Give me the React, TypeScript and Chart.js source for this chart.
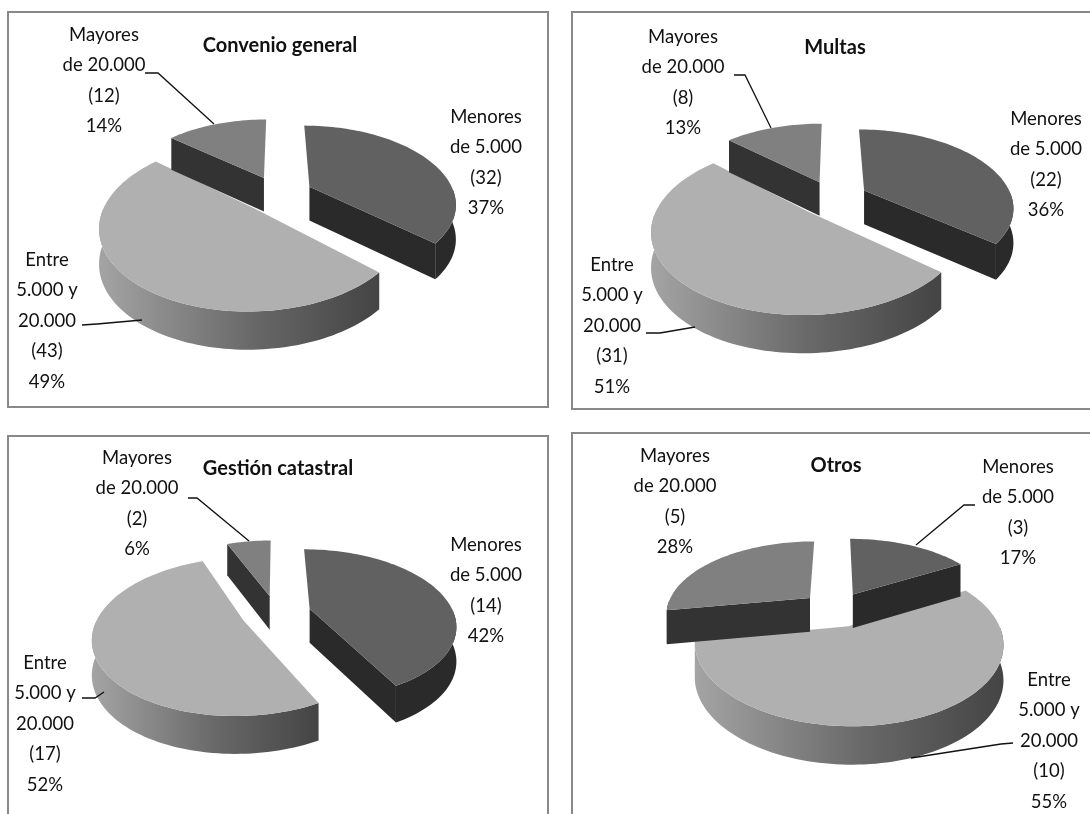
import React, { useEffect, useRef } from "react";
import { Chart, registerables } from "chart.js";

Chart.register(...registerables);

// ---- data ----
const categories = [
  ["Menores", "de 5.000"],
  ["Entre", "5.000 y", "20.000"],
  ["Mayores", "de 20.000"],
];
const titles = ["Convenio general", "Multas", "Gestión catastral", "Otros"];
const convenioCounts = [32, 43, 12];
const multasCounts = [22, 31, 8];
const gestionCounts = [14, 17, 2];
const otrosCounts = [3, 10, 5];
const convenioPercents = [37, 49, 14];
const multasPercents = [36, 51, 13];
const gestionPercents = [42, 52, 6];
const otrosPercents = [17, 55, 28];

// ---- styles and layout ----
const FONT = "Lato";
const TOP_COLORS = ["#616161", "#b0b0b0", "#808080"];
const WALL_COLORS = ["#2a2a2a", "#2a2a2a", "#333333"];
const DRAW_ORDER = [1, 2, 0];
const EXPLODE = 35;
const PERSPECTIVE = 0.2;
const DEPTH = 34;
const LINE_GAP = 30.5;

type Pt = [number, number];
interface Layout {
  counts: number[];
  percents: number[];
  title: string;
  box: { left: number; top: number; width: number; height: number };
  canvas: { left: number; top: number; width: number };
  titleY: number;
  center: Pt;
  radius: number;
  tiltHeight: number;
  labels: { x: number; y: number }[];
  leaders: Pt[][];
}

const panels: Layout[] = [
  {
    counts: convenioCounts, percents: convenioPercents, title: titles[0],
    box: { left: 7, top: 11, width: 542, height: 397 },
    canvas: { left: 8, top: 12, width: 544 }, titleY: 46, center: [278, 194], radius: 145, tiltHeight: 76,
    labels: [{ x: 486, y: 117 }, { x: 47, y: 260 }, { x: 104, y: 35 }],
    leaders: [[[145, 73], [158, 73], [214, 124]], [[82, 325], [97, 324], [142, 320]]],
  },
  {
    counts: multasCounts, percents: multasPercents, title: titles[1],
    box: { left: 571, top: 11, width: 530, height: 399 },
    canvas: { left: 571, top: 12, width: 528 }, titleY: 48, center: [833, 198], radius: 148, tiltHeight: 76,
    labels: [{ x: 1046, y: 119 }, { x: 612, y: 265 }, { x: 683, y: 37 }],
    leaders: [[[734, 75], [745, 75], [771, 128]], [[646, 333], [660, 333], [695, 327]]],
  },
  {
    counts: gestionCounts, percents: gestionPercents, title: titles[2],
    box: { left: 7, top: 435, width: 542, height: 400 },
    canvas: { left: 8, top: 436, width: 540 }, titleY: 469, center: [276, 613], radius: 144, tiltHeight: 73,
    labels: [{ x: 486, y: 545 }, { x: 45, y: 663 }, { x: 137, y: 458 }],
    leaders: [[[188, 498], [197, 498], [249, 541]], [[82, 698], [95, 698], [104, 692]]],
  },
  {
    counts: otrosCounts, percents: otrosPercents, title: titles[3],
    box: { left: 571, top: 432, width: 530, height: 400 },
    canvas: { left: 571, top: 433, width: 530 }, titleY: 466, center: [836, 609], radius: 144, tiltHeight: 72,
    labels: [{ x: 1018, y: 467 }, { x: 1049, y: 680 }, { x: 675, y: 456 }],
    leaders: [[[975, 505], [964, 505], [916, 545]], [[1013, 743], [1001, 744], [911, 758]]],
  },
];

function makePie3d(p: Layout) {
  return {
    id: "pie3d",
    beforeDatasetDraw(chart: any) {
      const ctx = chart.ctx as CanvasRenderingContext2D;
      const arcs = chart.getDatasetMeta(0).data;
      ctx.save();
      ctx.translate(-p.canvas.left, -p.canvas.top);
      for (const i of DRAW_ORDER) {
        const arc = arcs[i];
        const { startAngle, endAngle, outerRadius } = arc.getProps(
          ["startAngle", "endAngle", "outerRadius"], true);
        const R = outerRadius;
        const tilt = p.tiltHeight / R;
        const mid = (startAngle + endAngle) / 2;
        const off = arc.options.offset;
        const dx = off * Math.cos(mid);
        const dy = off * Math.sin(mid);
        const proj = (u: number, v: number, z: number): Pt => {
          const s = 1 / (1 - (PERSPECTIVE * v) / R);
          return [p.center[0] + u * s, p.center[1] + v * tilt * s + z * (1 + (s - 1) * 0.4)];
        };
        const n = Math.max(4, Math.ceil((endAngle - startAngle) / 0.03));
        const angles: number[] = [];
        for (let k = 0; k <= n; k++) angles.push(startAngle + ((endAngle - startAngle) * k) / n);
        const rimAt = (a: number): Pt => [R * Math.cos(a) + dx, R * Math.sin(a) + dy];
        const rim = angles.map(rimAt);
        const fillPoly = (pts: Pt[], style: any) => {
          ctx.beginPath();
          pts.forEach((q, idx) => (idx ? ctx.lineTo(q[0], q[1]) : ctx.moveTo(q[0], q[1])));
          ctx.closePath();
          ctx.fillStyle = style;
          ctx.fill();
        };
        const wall = WALL_COLORS[i];
        // radial walls that face the viewer
        if (-Math.cos(startAngle) > 0.01) {
          const e = rimAt(startAngle);
          fillPoly([proj(dx, dy, 0), proj(e[0], e[1], 0), proj(e[0], e[1], DEPTH), proj(dx, dy, DEPTH)], wall);
        }
        if (Math.cos(endAngle) > 0.01) {
          const e = rimAt(endAngle);
          fillPoly([proj(dx, dy, 0), proj(e[0], e[1], 0), proj(e[0], e[1], DEPTH), proj(dx, dy, DEPTH)], wall);
        }
        // outer wall: the visible part of the rim only
        const front = angles.filter((a) => Math.sin(a) >= 0).map(rimAt);
        if (front.length > 1) {
          let style: any = wall;
          if (i === 1) {
            const xs = front.map((q) => proj(q[0], q[1], 0)[0]);
            const g = ctx.createLinearGradient(Math.min(...xs), 0, Math.max(...xs), 0);
            g.addColorStop(0, "#a4a4a4");
            g.addColorStop(0.55, "#686868");
            g.addColorStop(1, "#444444");
            style = g;
          }
          fillPoly(
            [
              ...front.map((q) => proj(q[0], q[1], 0)),
              ...front.slice().reverse().map((q) => proj(q[0], q[1], DEPTH)),
            ],
            style
          );
        }
        // top face
        fillPoly([proj(dx, dy, 0), ...rim.map((q) => proj(q[0], q[1], 0))], arc.options.backgroundColor);
      }
      // leader lines
      ctx.strokeStyle = "#111111";
      ctx.lineWidth = 1.3;
      for (const line of p.leaders) {
        ctx.beginPath();
        line.forEach((q, idx) => (idx ? ctx.lineTo(q[0], q[1]) : ctx.moveTo(q[0], q[1])));
        ctx.stroke();
      }
      // data labels
      ctx.fillStyle = "#111111";
      ctx.font = `18.5px ${FONT}`;
      ctx.textAlign = "center";
      ctx.textBaseline = "middle";
      categories.forEach((cat, i) => {
        const lines = [...cat, `(${p.counts[i]})`, `${p.percents[i]}%`];
        lines.forEach((t, j) => ctx.fillText(t, p.labels[i].x, p.labels[i].y + j * LINE_GAP));
      });
      ctx.restore();
      return false;
    },
  };
}

function Panel({ p }: { p: Layout }) {
  const ref = useRef<HTMLCanvasElement>(null);
  useEffect(() => {
    const chart = new Chart(ref.current as HTMLCanvasElement, {
      type: "pie",
      data: {
        labels: categories.map((c) => c.join(" ")),
        datasets: [{
          data: p.counts,
          backgroundColor: TOP_COLORS,
          offset: EXPLODE,
          borderWidth: 0,
        }],
      },
      options: {
        responsive: false,
        animation: false,
        radius: p.radius,
        rotation: 0,
        layout: { padding: 0 },
        plugins: {
          legend: { display: false },
          tooltip: { enabled: false },
          title: {
            display: true,
            text: p.title,
            color: "#111111",
            font: { family: FONT, size: 20, weight: "bold" },
            padding: { top: p.titleY - p.canvas.top - 12, bottom: 0 },
          },
        },
      },
      plugins: [makePie3d(p)],
    } as any);
    return () => chart.destroy();
  }, [p]);
  return (
    <>
      <div
        style={{
          position: "absolute",
          left: p.box.left,
          top: p.box.top,
          width: p.box.width,
          height: p.box.height,
          border: "2px solid #888888",
          boxSizing: "border-box",
        }}
      />
      <canvas
        ref={ref}
        width={p.canvas.width}
        height={640}
        style={{ position: "absolute", left: p.canvas.left, top: p.canvas.top, display: "block" }}
      />
    </>
  );
}

export default function App() {
  return (
    <div
      style={{
        position: "fixed",
        left: 0,
        top: 0,
        width: 1090,
        height: 814,
        overflow: "hidden",
        background: "#ffffff",
      }}
    >
      {panels.map((p) => (
        <Panel key={p.title} p={p} />
      ))}
    </div>
  );
}
